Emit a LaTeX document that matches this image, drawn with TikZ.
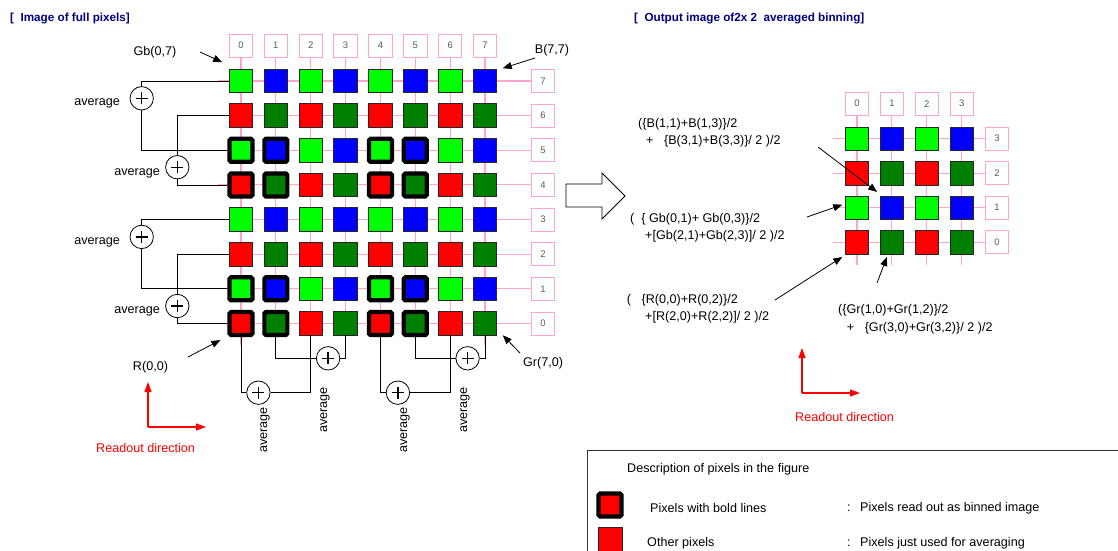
\documentclass[tikz,border=0pt]{standalone}
\usepackage{fontspec}
\setmainfont{Liberation Sans}
\usetikzlibrary{arrows.meta}
\definecolor{pk}{RGB}{255,165,205}
\definecolor{lg}{RGB}{0,255,0}
\definecolor{dg}{RGB}{0,128,0}
\definecolor{bl}{RGB}{0,0,255}
\definecolor{rd}{RGB}{255,0,0}
\definecolor{navy}{RGB}{0,0,128}
\definecolor{numgray}{RGB}{90,90,90}
\begin{document}
\begin{tikzpicture}[x=1pt,y=-1pt,
  px/.style={draw=black!85, line width=0.8pt, minimum size=23.5pt, inner sep=0pt, outer sep=0pt},
  bpx/.style={draw=black, line width=4.2pt, rounded corners=1.5pt, minimum size=23pt, inner sep=0pt},
  idx/.style={draw=pk, line width=0.9pt, fill=white, minimum width=23.5pt, minimum height=23pt, inner sep=0pt, text=numgray, font=\fontsize{9.5}{10}\selectfont},
  pinkline/.style={draw=pk, line width=1.1pt},
  wire/.style={draw=black, line width=0.8pt},
  avg/.style={circle, draw=black, fill=white, line width=0.8pt, minimum size=23.4pt, inner sep=0pt,
    path picture={\draw[line width=1.3pt] ([xshift=-6pt]path picture bounding box.center) -- ([xshift=6pt]path picture bounding box.center) ([yshift=-6pt]path picture bounding box.center) -- ([yshift=6pt]path picture bounding box.center);}},
  lbl/.style={font=\fontsize{12.6}{14}\selectfont, inner sep=0pt},
  ttl/.style={font=\fontsize{11.7}{13}\selectfont\bfseries, text=navy, inner sep=0pt, anchor=west},
  ptr/.style={-{Triangle[length=9pt,width=7pt]}, line width=0.8pt},
  redarr/.style={-{Triangle[length=10pt,width=7pt]}, draw=rd, line width=1.1pt},
  redtxt/.style={font=\fontsize{12.6}{14}\selectfont, text=rd, inner sep=0pt, anchor=west}
]
\useasboundingbox (0,0) rectangle (1118,550);
\clip (0,0) rectangle (1118,550);
\fill[white] (0,0) rectangle (1118,550);

% titles
\node[ttl] (t1) at (10,18) {[\ \ Image of full pixels]};
\node[ttl] (t2) at (634,18) {[\ \ Output image of2x 2\ \ averaged binning]};

% ---------- left grid ----------
\foreach \c in {0,...,7}{
  \node[idx] (ci\c) at ({241+34.86*\c},45.5) {\c};
  \draw[pinkline] (ci\c.south) -- ({241+34.86*\c},345);
}
\foreach \r in {0,...,7}{
  \node[idx] (ri\r) at (543,{81+34.64*(7-\r)}) {\r};
  \draw[pinkline] (218,{81+34.64*(7-\r)}) -- (ri\r.west);
}
\foreach \r in {0,...,7}{
  \foreach \c in {0,...,7}{
    \pgfmathtruncatemacro\ro{mod(\r,2)}
    \pgfmathtruncatemacro\co{mod(\c,2)}
    \ifnum\ro=1 \ifnum\co=0 \def\fc{lg}\else\def\fc{bl}\fi\else\ifnum\co=0 \def\fc{rd}\else\def\fc{dg}\fi\fi
    \pgfmathtruncatemacro\bold{and(mod(\r,4)<2, mod(\c,4)<2)}
    \ifnum\bold=1 \def\st{bpx}\else\def\st{px}\fi
    \node[\st, fill=\fc] (p\c\r) at ({241+34.86*\c},{81+34.64*(7-\r)}) {};
  }
}

% averaging circles (rows)
\node[avg] (c1) at (141.7,98.3) {};
\node[avg] (c2) at (177.3,167.2) {};
\node[avg] (c3) at (141.7,236.9) {};
\node[avg] (c4) at (177.3,306) {};
\draw[wire] (p07.west) -| (c1.north);
\draw[wire] (c1.south) |- (p05.west);
\draw[wire] (p06.west) -| (c2.north);
\draw[wire] (c2.south) |- (p04.west);
\draw[wire] (p03.west) -| (c3.north);
\draw[wire] (c3.south) |- (p01.west);
\draw[wire] (p02.west) -| (c4.north);
\draw[wire] (c4.south) |- (p00.west);
\node[lbl, anchor=east] (l1) at (120,103.5) {average};
\node[lbl, anchor=east] (l2) at (160,173) {average};
\node[lbl, anchor=east] (l3) at (120,242.3) {average};
\node[lbl, anchor=east] (l4) at (160,311.7) {average};

% averaging circles (columns)
\node[avg] (cA) at (258.4,392.7) {};
\node[avg] (cB) at (328.1,358.3) {};
\node[avg] (cC) at (397.9,392.7) {};
\node[avg] (cD) at (467.6,358.3) {};
\draw[wire] (p00.south) |- (cA.west);
\draw[wire] (cA.east) -| (p20.south);
\draw[wire] (p10.south) |- (cB.west);
\draw[wire] (cB.east) -| (p30.south);
\draw[wire] (p40.south) |- (cC.west);
\draw[wire] (cC.east) -| (p60.south);
\draw[wire] (p50.south) |- (cD.west);
\draw[wire] (cD.east) -| (p70.south);
\node[lbl, rotate=90] (lA) at (265,430) {average};
\node[lbl, rotate=90] (lB) at (325,410) {average};
\node[lbl, rotate=90] (lC) at (405,430) {average};
\node[lbl, rotate=90] (lD) at (465,410) {average};

% pixel name pointers
\node[lbl] (tGb) at (155,52) {Gb(0,7)};
\node[lbl] (tB) at (552,50) {B(7,7)};
\node[lbl] (tR) at (150.5,367) {R(0,0)};
\node[lbl] (tGr) at (543,363) {Gr(7,0)};
\coordinate (aGb) at (200,52);
\coordinate (aB) at (535,58);
\coordinate (aR) at (188,357);
\coordinate (aGr) at (520,353);
\draw[ptr] (aGb) -- ([shift={(-7,-7)}]p07.north west);
\draw[ptr] (aB) -- ([shift={(6,-1)}]p77.north east);
\draw[ptr] (aR) -- ([shift={(-7,3)}]p00.south west);
\draw[ptr] (aGr) -- ([shift={(6,0)}]p70.south east);

% readout direction (left)
\coordinate (o1) at (148,427);
\coordinate (o1u) at (148,382);
\coordinate (o1r) at (206,427);
\draw[redarr] (o1) -- (o1u);
\draw[redarr] (o1) -- (o1r);
\node[redtxt] (rd1) at (96,448) {Readout direction};

% big hollow arrow
\draw[line width=0.9pt, fill=white] (566,184) -- (602,184) -- (602,173) -- (625,196) -- (602,219) -- (602,207) -- (566,207) -- cycle;

% ---------- right grid ----------
\foreach \c in {0,...,3}{
  \node[idx] (di\c) at ({857+34.9*\c},103.7) {\c};
  \draw[pinkline] (di\c.south) -- ({857+34.9*\c},265);
}
\foreach \r in {0,...,3}{
  \node[idx] (si\r) at (997,{138.7+34.5*(3-\r)}) {\r};
  \draw[pinkline] (833,{138.7+34.5*(3-\r)}) -- (si\r.west);
}
\foreach \r in {0,...,3}{
  \foreach \c in {0,...,3}{
    \pgfmathtruncatemacro\ro{mod(\r,2)}
    \pgfmathtruncatemacro\co{mod(\c,2)}
    \ifnum\ro=1 \ifnum\co=0 \def\fc{lg}\else\def\fc{bl}\fi\else\ifnum\co=0 \def\fc{rd}\else\def\fc{dg}\fi\fi
    \node[px, fill=\fc] (q\c\r) at ({857+34.9*\c},{138.7+34.5*(3-\r)}) {};
  }
}

% formulas
\node[lbl, anchor=west] (fB1) at (638,124) {(\{B(1,1)+B(1,3)\}/2};
\node[lbl, anchor=west] (fB2) at (646,141.7) {+\ \ \ \{B(3,1)+B(3,3)\}/ 2 )/2};
\node[lbl, anchor=west] (fG1) at (630,219.3) {(\ \ \{ Gb(0,1)+ Gb(0,3)\}/2};
\node[lbl, anchor=west] (fG2) at (645,236.7) {+[Gb(2,1)+Gb(2,3)]/ 2 )/2};
\node[lbl, anchor=west] (fR1) at (626.7,300) {(\ \ \ \{R(0,0)+R(0,2)\}/2};
\node[lbl, anchor=west] (fR2) at (645,317) {+[R(2,0)+R(2,2)]/ 2 )/2};
\node[lbl, anchor=west] (fr1) at (838,310.7) {(\{Gr(1,0)+Gr(1,2)\}/2};
\node[lbl, anchor=west] (fr2) at (846.7,328) {+\ \ \ \{Gr(3,0)+Gr(3,2)\}/ 2 )/2};
\coordinate (bB) at (818,147);
\coordinate (bG) at (807,217);
\coordinate (bR) at (775,300);
\coordinate (bGr) at (877,283);
\draw[ptr] (bB) -- ([shift={(-3,-4)}]q11.north west);
\draw[ptr] (bG) -- ([shift={(-3,-3)}]q01.west);
\draw[ptr] (bR) -- ([shift={(-3,3)}]q00.south west);
\draw[ptr] (bGr) -- ([shift={(-5,3)}]q10.south);

% readout direction (right)
\coordinate (o2) at (802,393);
\coordinate (o2u) at (802,348);
\coordinate (o2r) at (860,393);
\draw[redarr] (o2) -- (o2u);
\draw[redarr] (o2) -- (o2r);
\node[redtxt] (rd2) at (795,417) {Readout direction};

% ---------- legend ----------
\draw[line width=0.9pt, draw=black!80] (587,450) rectangle (1130,570);
\node[lbl, anchor=west] (lg0) at (627,469) {Description of pixels in the figure};
\node[bpx, fill=rd] (lgb) at (610,505) {};
\node[px, fill=rd] (lgo) at (610.5,539.5) {};
\node[lbl, anchor=west] (lg1) at (650,508) {Pixels with bold lines};
\node[lbl, anchor=west] (lg2) at (647,543) {Other pixels};
\node[lbl, anchor=west] (lc1) at (847,508) {:};
\node[lbl, anchor=west] (lc2) at (847,543) {:};
\node[lbl, anchor=west] (lg3) at (860,508) {Pixels read out as binned image};
\node[lbl, anchor=west] (lg4) at (860,543) {Pixels just used for averaging};
\end{tikzpicture}
\end{document}
